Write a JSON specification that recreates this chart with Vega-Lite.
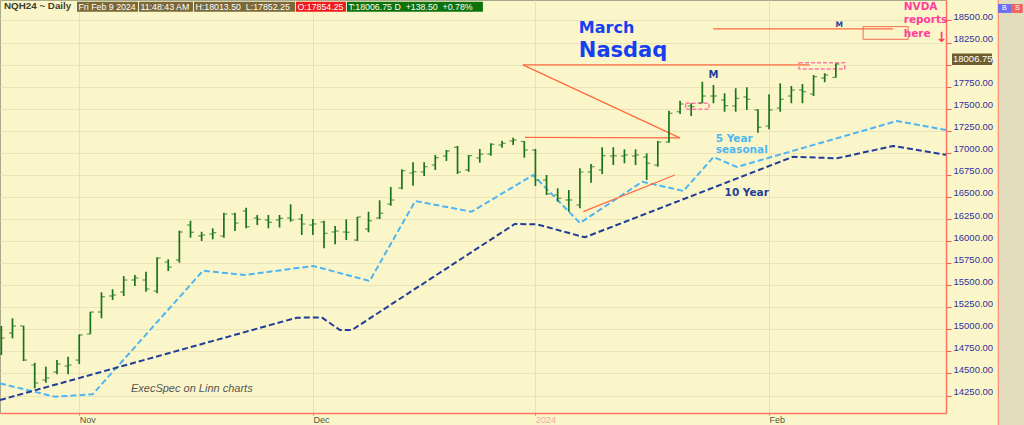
{
  "$schema": "https://vega.github.io/schema/vega-lite/v6.json",
  "width": 946,
  "height": 413,
  "autosize": {"type": "none"},
  "padding": {"left": 0, "top": 0, "right": 78, "bottom": 12},
  "background": "#fbf6ca",
  "config": {
    "view": {"stroke": "#a8a88a", "strokeWidth": 1, "fill": "#fbf6ca"},
    "axis": {"title": null, "labelOverlap": false}
  },
  "datasets": {
    "bars": [
      {"i":0,"d":"2023-10-23","o":14992,"h":15038,"l":14709,"c":14902},
      {"i":1,"d":"2023-10-24","o":14958,"h":15125,"l":14898,"c":15038},
      {"i":2,"d":"2023-10-25","o":15038,"h":15041,"l":14641,"c":14652},
      {"i":3,"d":"2023-10-26","o":14596,"h":14622,"l":14332,"c":14392},
      {"i":4,"d":"2023-10-27","o":14426,"h":14577,"l":14395,"c":14448},
      {"i":5,"d":"2023-10-30","o":14516,"h":14652,"l":14490,"c":14607},
      {"i":6,"d":"2023-10-31","o":14584,"h":14690,"l":14490,"c":14596},
      {"i":7,"d":"2023-11-01","o":14652,"h":14944,"l":14607,"c":14936},
      {"i":8,"d":"2023-11-02","o":14947,"h":15200,"l":14944,"c":15196},
      {"i":9,"d":"2023-11-03","o":15196,"h":15420,"l":15125,"c":15370},
      {"i":10,"d":"2023-11-06","o":15378,"h":15454,"l":15332,"c":15389},
      {"i":11,"d":"2023-11-07","o":15423,"h":15604,"l":15378,"c":15559},
      {"i":12,"d":"2023-11-08","o":15559,"h":15616,"l":15491,"c":15582},
      {"i":13,"d":"2023-11-09","o":15559,"h":15653,"l":15427,"c":15457},
      {"i":14,"d":"2023-11-10","o":15434,"h":15816,"l":15408,"c":15808},
      {"i":15,"d":"2023-11-13","o":15763,"h":15794,"l":15661,"c":15706},
      {"i":16,"d":"2023-11-14","o":15786,"h":16118,"l":15755,"c":16103},
      {"i":17,"d":"2023-11-15","o":16182,"h":16231,"l":16038,"c":16100},
      {"i":18,"d":"2023-11-16","o":16058,"h":16106,"l":16001,"c":16069},
      {"i":19,"d":"2023-11-17","o":16080,"h":16145,"l":16020,"c":16095},
      {"i":20,"d":"2023-11-20","o":16058,"h":16322,"l":16038,"c":16307},
      {"i":21,"d":"2023-11-21","o":16307,"h":16322,"l":16114,"c":16205},
      {"i":22,"d":"2023-11-22","o":16341,"h":16378,"l":16145,"c":16163},
      {"i":23,"d":"2023-11-24","o":16262,"h":16296,"l":16182,"c":16247},
      {"i":24,"d":"2023-11-27","o":16239,"h":16296,"l":16145,"c":16213},
      {"i":25,"d":"2023-11-28","o":16239,"h":16296,"l":16154,"c":16258},
      {"i":26,"d":"2023-11-29","o":16262,"h":16417,"l":16220,"c":16239},
      {"i":27,"d":"2023-11-30","o":16250,"h":16307,"l":16069,"c":16194},
      {"i":28,"d":"2023-12-01","o":16182,"h":16250,"l":16069,"c":16194},
      {"i":29,"d":"2023-12-04","o":16216,"h":16231,"l":15918,"c":16088},
      {"i":30,"d":"2023-12-05","o":16103,"h":16171,"l":15964,"c":16114},
      {"i":31,"d":"2023-12-06","o":16103,"h":16247,"l":16012,"c":16100},
      {"i":32,"d":"2023-12-07","o":16012,"h":16276,"l":16001,"c":16273},
      {"i":33,"d":"2023-12-08","o":16137,"h":16333,"l":16100,"c":16231},
      {"i":34,"d":"2023-12-11","o":16262,"h":16462,"l":16250,"c":16315},
      {"i":35,"d":"2023-12-12","o":16420,"h":16613,"l":16401,"c":16466},
      {"i":36,"d":"2023-12-13","o":16602,"h":16814,"l":16587,"c":16798},
      {"i":37,"d":"2023-12-14","o":16772,"h":16893,"l":16628,"c":16786},
      {"i":38,"d":"2023-12-15","o":16783,"h":16893,"l":16738,"c":16843},
      {"i":39,"d":"2023-12-18","o":16862,"h":16976,"l":16806,"c":16945},
      {"i":40,"d":"2023-12-19","o":16964,"h":17032,"l":16908,"c":17021},
      {"i":41,"d":"2023-12-20","o":17063,"h":17078,"l":16760,"c":16783},
      {"i":42,"d":"2023-12-21","o":16806,"h":16976,"l":16786,"c":16968},
      {"i":43,"d":"2023-12-22","o":16942,"h":17044,"l":16888,"c":16984},
      {"i":44,"d":"2023-12-26","o":16987,"h":17108,"l":16968,"c":17097},
      {"i":45,"d":"2023-12-27","o":17089,"h":17138,"l":17058,"c":17108},
      {"i":46,"d":"2023-12-28","o":17134,"h":17172,"l":17089,"c":17145},
      {"i":47,"d":"2023-12-29","o":17129,"h":17134,"l":16945,"c":17032},
      {"i":48,"d":"2024-01-02","o":17032,"h":17044,"l":16624,"c":16692},
      {"i":49,"d":"2024-01-03","o":16692,"h":16749,"l":16522,"c":16534},
      {"i":50,"d":"2024-01-04","o":16522,"h":16598,"l":16446,"c":16485},
      {"i":51,"d":"2024-01-05","o":16466,"h":16579,"l":16333,"c":16466},
      {"i":52,"d":"2024-01-08","o":16409,"h":16825,"l":16372,"c":16783},
      {"i":53,"d":"2024-01-09","o":16783,"h":16874,"l":16662,"c":16843},
      {"i":54,"d":"2024-01-10","o":16806,"h":17063,"l":16760,"c":16968},
      {"i":55,"d":"2024-01-11","o":16964,"h":17063,"l":16862,"c":16968},
      {"i":56,"d":"2024-01-12","o":16964,"h":17040,"l":16882,"c":16976},
      {"i":57,"d":"2024-01-16","o":16964,"h":17040,"l":16862,"c":16976},
      {"i":58,"d":"2024-01-17","o":16953,"h":16995,"l":16692,"c":16882},
      {"i":59,"d":"2024-01-18","o":16862,"h":17134,"l":16843,"c":17123},
      {"i":60,"d":"2024-01-19","o":17123,"h":17478,"l":17115,"c":17448},
      {"i":61,"d":"2024-01-22","o":17466,"h":17591,"l":17440,"c":17554},
      {"i":62,"d":"2024-01-23","o":17531,"h":17562,"l":17418,"c":17523},
      {"i":63,"d":"2024-01-24","o":17565,"h":17806,"l":17562,"c":17644},
      {"i":64,"d":"2024-01-25","o":17644,"h":17769,"l":17562,"c":17644},
      {"i":65,"d":"2024-01-26","o":17599,"h":17675,"l":17466,"c":17534},
      {"i":66,"d":"2024-01-29","o":17531,"h":17732,"l":17466,"c":17618},
      {"i":67,"d":"2024-01-30","o":17633,"h":17743,"l":17486,"c":17607},
      {"i":68,"d":"2024-01-31","o":17486,"h":17494,"l":17228,"c":17290},
      {"i":69,"d":"2024-02-01","o":17304,"h":17664,"l":17267,"c":17486},
      {"i":70,"d":"2024-02-02","o":17508,"h":17788,"l":17466,"c":17607},
      {"i":71,"d":"2024-02-05","o":17644,"h":17758,"l":17562,"c":17712},
      {"i":72,"d":"2024-02-06","o":17712,"h":17780,"l":17562,"c":17693},
      {"i":73,"d":"2024-02-07","o":17667,"h":17882,"l":17644,"c":17863},
      {"i":74,"d":"2024-02-08","o":17848,"h":17902,"l":17800,"c":17882},
      {"i":75,"d":"2024-02-09","o":17854.25,"h":18013.5,"l":17852.25,"c":18006.75}
    ],
    "s5": [
      {"i":-0.12,"p":14388},{"i":4.82,"p":14236},{"i":8.21,"p":14264},{"i":18.12,"p":15664},
      {"i":21.9,"p":15616},{"i":28.03,"p":15718},{"i":33.1,"p":15548},{"i":37.2,"p":16454},
      {"i":42.26,"p":16333},{"i":47.8,"p":16749},{"i":52.0,"p":16205},{"i":57.6,"p":16673},
      {"i":61.3,"p":16568},{"i":64.0,"p":16953},{"i":66.1,"p":16840},{"i":80.5,"p":17361},
      {"i":84.9,"p":17259}
    ],
    "s10": [
      {"i":-0.12,"p":14199},{"i":26.54,"p":15132},{"i":28.79,"p":15136},{"i":30.43,"p":14992},
      {"i":31.5,"p":14992},{"i":46.15,"p":16194},{"i":48.13,"p":16190},{"i":52.44,"p":16043},
      {"i":71.16,"p":16956},{"i":75.1,"p":16938},{"i":80.14,"p":17078},{"i":84.9,"p":16978}
    ],
    "seg": [
      {"i":46.87,"p":17996,"i2":72.66,"p2":17996},
      {"i":46.87,"p":17996,"i2":60.98,"p2":17170},
      {"i":47.05,"p":17176,"i2":60.98,"p2":17170},
      {"i":52.3,"p":16333,"i2":60.53,"p2":16749},
      {"i":63.97,"p":18404,"i2":80.14,"p2":18404}
    ],
    "redbox": [{"a":77.45,"b":81.5,"lo":18287,"hi":18430}],
    "pinkbox": [
      {"a":71.7,"b":75.8,"lo":17950,"hi":18022},
      {"a":61.5,"b":63.6,"lo":17494,"hi":17562}
    ],
    "hdr": [
      {"a":6.8,"b":12.28,"t":"Fri Feb 9 2024","k":"info"},
      {"a":12.37,"b":17.22,"t":"11:48:43 AM","k":"info"},
      {"a":17.31,"b":26.4,"t":"H:18013.50\u00a0\u00a0L:17852.25","k":"info"},
      {"a":26.48,"b":30.97,"t":"O:17854.25","k":"open"},
      {"a":31.06,"b":43.28,"t":"T:18006.75 D\u00a0\u00a0+138.50\u00a0\u00a0+0.78%","k":"last"}
    ],
    "panel": [{"a":89.6,"b":92.5}],
    "bs": [
      {"a":89.57,"b":90.74,"t":"B","k":"buy"},
      {"a":90.74,"b":91.8,"t":"S","k":"sell"}
    ],
    "last": [{"a":85.44,"b":89.03,"t":"18006.75"}]
  },
  "layer": [
    {
      "data": {"name": "s5"},
      "mark": {"type": "line", "color": "#4db6f2", "strokeWidth": 2, "strokeDash": [6, 3]},
      "encoding": {
        "x": {
          "field": "i", "type": "quantitative", "title": null,
          "scale": {"domain": [-0.12, 84.9], "nice": false, "zero": false},
          "axis": {
            "orient": "bottom", "values": [7, 28, 48, 69], "tickCount": 50,
            "labelExpr": "datum.value == 7 ? 'Nov' : datum.value == 28 ? 'Dec' : datum.value == 48 ? '2024' : 'Feb'",
            "labelAlign": "left", "labelBaseline": "top", "labelPadding": 0, "labelOverlap": false, "labelBound": false,
            "labelFont": "Liberation Sans", "labelFontSize": 9,
            "labelColor": {"condition": {"test": "datum.value == 48", "value": "#f2a6a0"}, "value": "#4d5b40"},
            "tickColor": "#ff5a48", "tickSize": 2, "domainColor": "#ff7462", "domainWidth": 1.5,
            "grid": true, "gridColor": "#e8e1b3", "gridWidth": 1, "title": null
          }
        },
        "y": {
          "field": "p", "type": "quantitative", "title": null,
          "scale": {"domain": [14052, 18732], "nice": false, "zero": false},
          "axis": {
            "orient": "right", "tickCount": 50,
            "values": [14250, 14500, 14750, 15000, 15250, 15500, 15750, 16000, 16250, 16500, 16750, 17000, 17250, 17500, 17750, 18000, 18250, 18500],
            "format": ".2f", "labelFont": "Liberation Sans", "labelFontSize": 9.5, "labelOverlap": false, "labelBound": false,
            "labelColor": "#30309a", "labelBaseline": "alphabetic", "labelOffset": -1, "labelPadding": 2,
            "tickColor": "#ff5a48", "tickSize": 5, "domainColor": "#ff7462", "domainWidth": 1.5,
            "grid": true, "gridColor": "#ebe4b7", "gridWidth": 1, "title": null
          }
        }
      }
    },
    {
      "data": {"name": "panel"},
      "mark": {"type": "rect", "color": "#e2ddbd"},
      "encoding": {
        "x": {"field": "a", "type": "quantitative", "scale": {"domain": [-0.12, 84.9], "nice": false, "zero": false}, "title": null},
        "x2": {"field": "b"},
        "y": {"datum": 13916, "type": "quantitative", "scale": {"domain": [14052, 18732], "nice": false, "zero": false}},
        "y2": {"datum": 18732}
      }
    },
    {
      "data": {"name": "panel"},
      "mark": {"type": "rule", "color": "#ff8a78", "strokeWidth": 1.2},
      "encoding": {
        "x": {"field": "a", "type": "quantitative", "scale": {"domain": [-0.12, 84.9], "nice": false, "zero": false}, "title": null},
        "y": {"datum": 13916, "type": "quantitative", "scale": {"domain": [14052, 18732], "nice": false, "zero": false}},
        "y2": {"datum": 18732}
      }
    },
    {
      "data": {"name": "s10"},
      "mark": {"type": "line", "color": "#1f3d99", "strokeWidth": 2, "strokeDash": [6, 3]},
      "encoding": {
        "x": {"field": "i", "type": "quantitative", "scale": {"domain": [-0.12, 84.9], "nice": false, "zero": false}, "title": null},
        "y": {"field": "p", "type": "quantitative", "scale": {"domain": [14052, 18732], "nice": false, "zero": false}, "title": null}
      }
    },
    {
      "data": {"name": "seg"},
      "mark": {"type": "rule", "color": "#ff6a40", "strokeWidth": 1.3},
      "encoding": {
        "x": {"field": "i", "type": "quantitative", "scale": {"domain": [-0.12, 84.9], "nice": false, "zero": false}, "title": null},
        "x2": {"field": "i2"},
        "y": {"field": "p", "type": "quantitative", "scale": {"domain": [14052, 18732], "nice": false, "zero": false}, "title": null},
        "y2": {"field": "p2"}
      }
    },
    {
      "data": {"name": "redbox"},
      "mark": {"type": "rect", "fill": null, "fillOpacity": 0, "stroke": "#f06a55", "strokeWidth": 1},
      "encoding": {
        "x": {"field": "a", "type": "quantitative", "scale": {"domain": [-0.12, 84.9], "nice": false, "zero": false}, "title": null},
        "x2": {"field": "b"},
        "y": {"field": "lo", "type": "quantitative", "scale": {"domain": [14052, 18732], "nice": false, "zero": false}, "title": null},
        "y2": {"field": "hi"}
      }
    },
    {
      "data": {"name": "pinkbox"},
      "mark": {"type": "rect", "fill": null, "fillOpacity": 0, "stroke": "#ff7aa5", "strokeWidth": 1.5, "strokeDash": [4, 2]},
      "encoding": {
        "x": {"field": "a", "type": "quantitative", "scale": {"domain": [-0.12, 84.9], "nice": false, "zero": false}, "title": null},
        "x2": {"field": "b"},
        "y": {"field": "lo", "type": "quantitative", "scale": {"domain": [14052, 18732], "nice": false, "zero": false}, "title": null},
        "y2": {"field": "hi"}
      }
    },
    {
      "data": {"name": "bars"},
      "mark": {"type": "rule", "color": "#1a741a", "strokeWidth": 1.7},
      "encoding": {
        "x": {"field": "i", "type": "quantitative", "scale": {"domain": [-0.12, 84.9], "nice": false, "zero": false}, "title": null},
        "y": {"field": "l", "type": "quantitative", "scale": {"domain": [14052, 18732], "nice": false, "zero": false}, "title": null},
        "y2": {"field": "h"}
      }
    },
    {
      "data": {"name": "bars"},
      "mark": {"type": "tick", "orient": "horizontal", "color": "#1a741a", "size": 3, "thickness": 1.2, "xOffset": -2},
      "encoding": {
        "x": {"field": "i", "type": "quantitative", "scale": {"domain": [-0.12, 84.9], "nice": false, "zero": false}, "title": null},
        "y": {"field": "o", "type": "quantitative", "scale": {"domain": [14052, 18732], "nice": false, "zero": false}, "title": null}
      }
    },
    {
      "data": {"name": "bars"},
      "mark": {"type": "tick", "orient": "horizontal", "color": "#1a741a", "size": 3, "thickness": 1.2, "xOffset": 2},
      "encoding": {
        "x": {"field": "i", "type": "quantitative", "scale": {"domain": [-0.12, 84.9], "nice": false, "zero": false}, "title": null},
        "y": {"field": "c", "type": "quantitative", "scale": {"domain": [14052, 18732], "nice": false, "zero": false}, "title": null}
      }
    },
    {
      "data": {"values": [{"i": 51.9, "p": 18362, "t": "March"}]},
      "mark": {"type": "text", "font": "DejaVu Sans", "fontWeight": "bold", "fontSize": 16, "color": "#1540f0", "align": "left", "baseline": "alphabetic"},
      "encoding": {
        "x": {"field": "i", "type": "quantitative", "scale": {"domain": [-0.12, 84.9], "nice": false, "zero": false}, "title": null},
        "y": {"field": "p", "type": "quantitative", "scale": {"domain": [14052, 18732], "nice": false, "zero": false}, "title": null},
        "text": {"field": "t"}
      }
    },
    {
      "data": {"values": [{"i": 51.9, "p": 18083, "t": "Nasdaq"}]},
      "mark": {"type": "text", "font": "DejaVu Sans", "fontWeight": "bold", "fontSize": 21, "color": "#1540f0", "align": "left", "baseline": "alphabetic"},
      "encoding": {
        "x": {"field": "i", "type": "quantitative", "scale": {"domain": [-0.12, 84.9], "nice": false, "zero": false}, "title": null},
        "y": {"field": "p", "type": "quantitative", "scale": {"domain": [14052, 18732], "nice": false, "zero": false}, "title": null},
        "text": {"field": "t"}
      }
    },
    {
      "data": {"values": [{"i": 81.1, "p": 18619, "t": "NVDA"}, {"i": 81.1, "p": 18472, "t": "reports"}, {"i": 81.1, "p": 18316, "t": "here"}]},
      "mark": {"type": "text", "font": "DejaVu Sans", "fontWeight": "bold", "fontSize": 10.5, "color": "#ff3d9a", "align": "left", "baseline": "alphabetic"},
      "encoding": {
        "x": {"field": "i", "type": "quantitative", "scale": {"domain": [-0.12, 84.9], "nice": false, "zero": false}, "title": null},
        "y": {"field": "p", "type": "quantitative", "scale": {"domain": [14052, 18732], "nice": false, "zero": false}, "title": null},
        "text": {"field": "t"}
      }
    },
    {
      "data": {"values": [{"i": 84.5, "p": 18302, "t": "↓"}]},
      "mark": {"type": "text", "font": "DejaVu Sans", "fontWeight": "bold", "fontSize": 14, "color": "#ff3d6a", "align": "center", "baseline": "middle"},
      "encoding": {
        "x": {"field": "i", "type": "quantitative", "scale": {"domain": [-0.12, 84.9], "nice": false, "zero": false}, "title": null},
        "y": {"field": "p", "type": "quantitative", "scale": {"domain": [14052, 18732], "nice": false, "zero": false}, "title": null},
        "text": {"field": "t"}
      }
    },
    {
      "data": {"values": [{"i": 64.2, "p": 17126, "t": "5 Year"}, {"i": 64.2, "p": 16995, "t": "seasonal"}]},
      "mark": {"type": "text", "font": "DejaVu Sans", "fontWeight": "bold", "fontSize": 10.5, "color": "#4db6f2", "align": "left", "baseline": "alphabetic"},
      "encoding": {
        "x": {"field": "i", "type": "quantitative", "scale": {"domain": [-0.12, 84.9], "nice": false, "zero": false}, "title": null},
        "y": {"field": "p", "type": "quantitative", "scale": {"domain": [14052, 18732], "nice": false, "zero": false}, "title": null},
        "text": {"field": "t"}
      }
    },
    {
      "data": {"values": [{"i": 65.0, "p": 16511, "t": "10 Year"}]},
      "mark": {"type": "text", "font": "DejaVu Sans", "fontWeight": "bold", "fontSize": 10.5, "color": "#1f3d99", "align": "left", "baseline": "alphabetic"},
      "encoding": {
        "x": {"field": "i", "type": "quantitative", "scale": {"domain": [-0.12, 84.9], "nice": false, "zero": false}, "title": null},
        "y": {"field": "p", "type": "quantitative", "scale": {"domain": [14052, 18732], "nice": false, "zero": false}, "title": null},
        "text": {"field": "t"}
      }
    },
    {
      "data": {"values": [{"i": 64.0, "p": 17845, "t": "M"}]},
      "mark": {"type": "text", "font": "DejaVu Sans", "fontWeight": "bold", "fontSize": 10, "color": "#1f3d99", "align": "center", "baseline": "alphabetic"},
      "encoding": {
        "x": {"field": "i", "type": "quantitative", "scale": {"domain": [-0.12, 84.9], "nice": false, "zero": false}, "title": null},
        "y": {"field": "p", "type": "quantitative", "scale": {"domain": [14052, 18732], "nice": false, "zero": false}, "title": null},
        "text": {"field": "t"}
      }
    },
    {
      "data": {"values": [{"i": 75.3, "p": 18423, "t": "M"}]},
      "mark": {"type": "text", "font": "DejaVu Sans", "fontWeight": "bold", "fontSize": 7.5, "color": "#1f3d99", "align": "center", "baseline": "alphabetic"},
      "encoding": {
        "x": {"field": "i", "type": "quantitative", "scale": {"domain": [-0.12, 84.9], "nice": false, "zero": false}, "title": null},
        "y": {"field": "p", "type": "quantitative", "scale": {"domain": [14052, 18732], "nice": false, "zero": false}, "title": null},
        "text": {"field": "t"}
      }
    },
    {
      "data": {"values": [{"i": 11.65, "p": 14290, "t": "ExecSpec on Linn charts"}]},
      "mark": {"type": "text", "font": "Liberation Sans", "fontStyle": "italic", "fontSize": 11, "color": "#555555", "align": "left", "baseline": "alphabetic"},
      "encoding": {
        "x": {"field": "i", "type": "quantitative", "scale": {"domain": [-0.12, 84.9], "nice": false, "zero": false}, "title": null},
        "y": {"field": "p", "type": "quantitative", "scale": {"domain": [14052, 18732], "nice": false, "zero": false}, "title": null},
        "text": {"field": "t"}
      }
    },
    {
      "data": {"values": [{"i": 0.15, "p": 18659, "t": "NQH24 ~ Daily"}]},
      "mark": {"type": "text", "font": "Liberation Sans", "fontWeight": "bold", "fontSize": 9.8, "color": "#3c3c28", "align": "left", "baseline": "middle", "dx": 1},
      "encoding": {
        "x": {"field": "i", "type": "quantitative", "scale": {"domain": [-0.12, 84.9], "nice": false, "zero": false}, "title": null},
        "y": {"field": "p", "type": "quantitative", "scale": {"domain": [14052, 18732], "nice": false, "zero": false}, "title": null},
        "text": {"field": "t"}
      }
    },
    {
      "data": {"name": "hdr"},
      "mark": {"type": "rect"},
      "encoding": {
        "x": {"field": "a", "type": "quantitative", "scale": {"domain": [-0.12, 84.9], "nice": false, "zero": false}, "title": null},
        "x2": {"field": "b"},
        "y": {"datum": 18600, "type": "quantitative", "scale": {"domain": [14052, 18732], "nice": false, "zero": false}},
        "y2": {"datum": 18712},
        "color": {"field": "k", "type": "nominal", "scale": {"domain": ["info", "open", "last"], "range": ["#7a6838", "#ee1c1c", "#0c720c"]}, "legend": null}
      }
    },
    {
      "data": {"name": "hdr"},
      "mark": {"type": "text", "font": "Liberation Sans", "fontSize": 8.8, "color": "#ffffff", "align": "left", "baseline": "middle", "dx": 1.5},
      "encoding": {
        "x": {"field": "a", "type": "quantitative", "scale": {"domain": [-0.12, 84.9], "nice": false, "zero": false}, "title": null},
        "y": {"datum": 18656, "type": "quantitative", "scale": {"domain": [14052, 18732], "nice": false, "zero": false}},
        "text": {"field": "t"}
      }
    },
    {
      "data": {"name": "last"},
      "mark": {"type": "rect", "color": "#6e5c2c"},
      "encoding": {
        "x": {"field": "a", "type": "quantitative", "scale": {"domain": [-0.12, 84.9], "nice": false, "zero": false}, "title": null},
        "x2": {"field": "b"},
        "y": {"datum": 17996, "type": "quantitative", "scale": {"domain": [14052, 18732], "nice": false, "zero": false}},
        "y2": {"datum": 18126}
      }
    },
    {
      "data": {"name": "last"},
      "mark": {"type": "text", "font": "Liberation Sans", "fontSize": 9.5, "color": "#ffffff", "align": "left", "baseline": "middle", "dx": 1},
      "encoding": {
        "x": {"field": "a", "type": "quantitative", "scale": {"domain": [-0.12, 84.9], "nice": false, "zero": false}, "title": null},
        "y": {"datum": 18061, "type": "quantitative", "scale": {"domain": [14052, 18732], "nice": false, "zero": false}},
        "text": {"field": "t"}
      }
    },
    {
      "data": {"name": "bs"},
      "mark": {"type": "rect"},
      "encoding": {
        "x": {"field": "a", "type": "quantitative", "scale": {"domain": [-0.12, 84.9], "nice": false, "zero": false}, "title": null},
        "x2": {"field": "b"},
        "y": {"datum": 18585, "type": "quantitative", "scale": {"domain": [14052, 18732], "nice": false, "zero": false}},
        "y2": {"datum": 18687},
        "fill": {"field": "k", "type": "nominal", "scale": {"domain": ["buy", "sell"], "range": ["#7070ee", "#f06464"]}, "legend": null}
      }
    },
    {
      "data": {"name": "bs"},
      "mark": {"type": "text", "font": "Liberation Sans", "fontSize": 7, "color": "#ffffff", "align": "left", "baseline": "middle", "dx": 4},
      "encoding": {
        "x": {"field": "a", "type": "quantitative", "scale": {"domain": [-0.12, 84.9], "nice": false, "zero": false}, "title": null},
        "y": {"datum": 18636, "type": "quantitative", "scale": {"domain": [14052, 18732], "nice": false, "zero": false}},
        "text": {"field": "t"}
      }
    }
  ]
}
